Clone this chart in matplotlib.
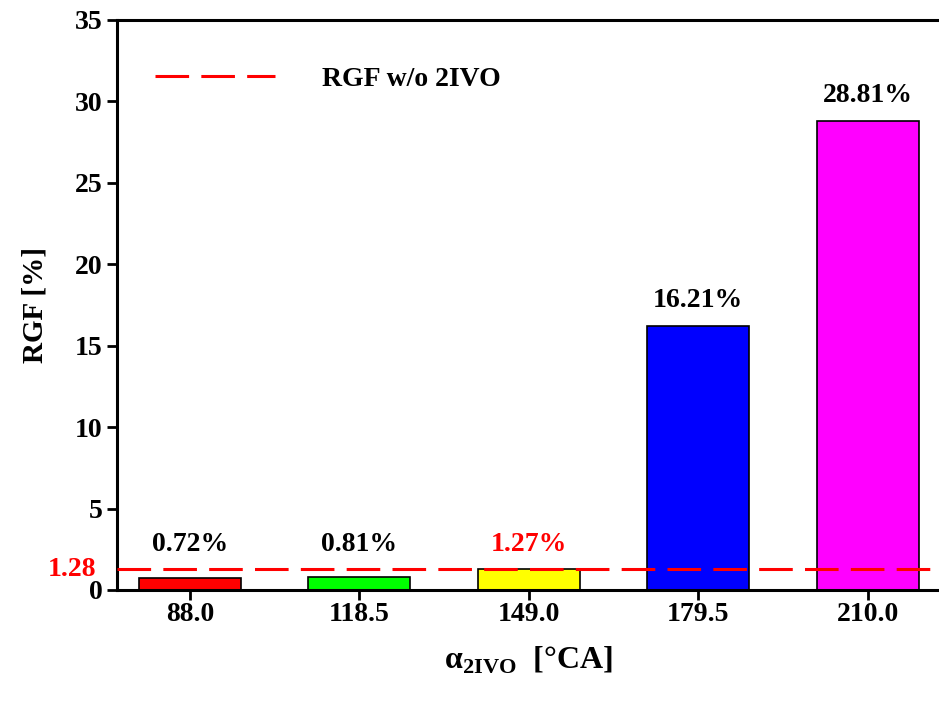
import matplotlib.pyplot as plt

plt.rcParams['font.family'] = ['Liberation Serif', 'DejaVu Serif']
plt.rcParams['font.weight'] = 'bold'
plt.rcParams['mathtext.fontset'] = 'custom'
plt.rcParams['mathtext.rm'] = 'Liberation Serif:bold'
plt.rcParams['mathtext.bf'] = 'Liberation Serif:bold'

# data
angles = [88.0, 118.5, 149.0, 179.5, 210.0]
rgf = [0.72, 0.81, 1.27, 16.21, 28.81]
bar_colors = ['#ff0000', '#00ff00', '#ffff00', '#0000ff', '#ff00ff']
label_colors = ['black', 'black', 'red', 'black', 'black']
rgf_ref = 1.28
yticks = [0, 5, 10, 15, 20, 25, 30, 35]

fig = plt.figure(figsize=(9.39, 7.04), dpi=100)
ax = fig.add_axes([0.1246, 0.162, 0.8754, 0.8096])

ax.bar(angles, rgf, width=18.3, color=bar_colors, edgecolor='black', linewidth=1.2, zorder=2)
ax.axhline(rgf_ref, color='red', lw=2.2, dashes=(11, 4), zorder=3, label='RGF w/o 2IVO')

for a, v, c in zip(angles, rgf, label_colors):
    ax.annotate(f'{v:.2f}%', (a, max(v, rgf_ref)), xytext=(0, 18), textcoords='offset points',
                ha='center', va='center', fontsize=20, fontweight='bold', color=c)

ax.text(-0.025, rgf_ref, f'{rgf_ref:.2f}', transform=ax.get_yaxis_transform(), ha='right', va='center',
        fontsize=20, fontweight='bold', color='red')

ax.set_xlim(74.9, 222.8)
ax.set_ylim(0, 35)
ax.set_xticks(angles)
ax.set_xticklabels([f'{a:.1f}' for a in angles])
ax.set_yticks(yticks)
ax.tick_params(labelsize=20, width=2, length=7, direction='out')
ax.tick_params(axis='x', pad=2)
for s in ax.spines.values():
    s.set_linewidth(2.2)
ax.spines['right'].set_visible(False)

ax.set_ylabel('RGF [%]', fontsize=21, fontweight='bold', labelpad=19)
ax.set_xlabel(r'α$_{\mathrm{2IVO}}$  [°CA]', fontsize=23, fontweight='bold', labelpad=12)

ax.legend(loc='upper left', bbox_to_anchor=(0.016, 0.962), frameon=False,
          handlelength=4.3, handletextpad=1.7, prop={'weight': 'bold', 'size': 20})

fig.savefig('out.png', dpi=100)
